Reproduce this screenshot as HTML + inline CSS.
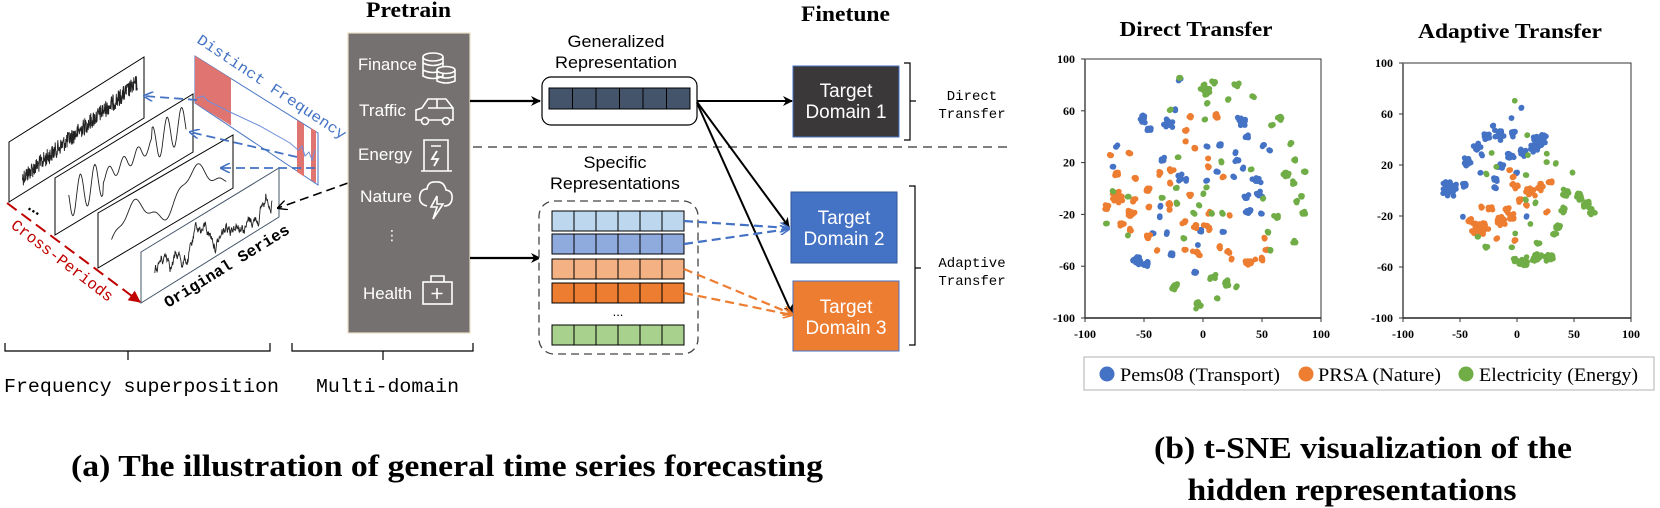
<!DOCTYPE html>
<html><head><meta charset="utf-8">
<style>
html,body{margin:0;padding:0;background:#fff;}
svg{display:block;}
.mono{font-family:"Liberation Mono","DejaVu Sans Mono",monospace;}
.sans{font-family:"Liberation Sans","DejaVu Sans",sans-serif;}
.serif{font-family:"Liberation Serif","DejaVu Serif",serif;}
</style></head>
<body>
<svg id="s" width="1660" height="508" viewBox="0 0 1660 508" xmlns="http://www.w3.org/2000/svg">
<defs>
<marker id="ab" markerWidth="10" markerHeight="10" refX="9" refY="5" orient="auto" markerUnits="userSpaceOnUse"><path d="M0,0 L10,5 L0,10 L3,5 z" fill="#000"/></marker>
<marker id="abl" markerWidth="10" markerHeight="10" refX="9" refY="5" orient="auto" markerUnits="userSpaceOnUse"><path d="M0,0 L10,5 L0,10" fill="none" stroke="#4472c4" stroke-width="1.6"/></marker>
<marker id="ao" markerWidth="10" markerHeight="10" refX="9" refY="5" orient="auto" markerUnits="userSpaceOnUse"><path d="M0,0 L10,5 L0,10" fill="none" stroke="#ed7d31" stroke-width="1.6"/></marker>
<marker id="ar" markerWidth="12" markerHeight="12" refX="11" refY="6" orient="auto" markerUnits="userSpaceOnUse"><path d="M0,0 L12,6 L0,12 z" fill="#c00000"/></marker>
<marker id="ak" markerWidth="10" markerHeight="10" refX="9" refY="5" orient="auto" markerUnits="userSpaceOnUse"><path d="M0,0 L10,5 L0,10" fill="none" stroke="#000" stroke-width="1.4"/></marker>
</defs>

<g id="panels" fill="#fff" stroke="#000" stroke-width="1">
<polygon points="9,142 144,57 144,118 9,202"/>
<polygon points="55,178 193,94 193,152 55,235"/>
<polygon points="98,213 233,135 233,188 98,268"/>
<polygon points="141,252 279,168 279,217 141,303" stroke="#44546a"/>
</g>
<g id="waves" fill="none" stroke="#222" stroke-width="0.9"></g>

<polygon points="195,56 318,133 318,185 195,103" fill="#fff" stroke="#4472c4" stroke-width="1"/>
<polygon points="195,56 231,78.5 231,125.5 195,103" fill="#e07470"/>
<polygon points="297,120 304,124.5 304,176.5 297,172" fill="#e07470"/>
<polygon points="311,128 316,131 316,183 311,180" fill="#e07470"/>
<polyline points="197,98 203,96 208,101 230,112 260,126 290,143 298,150 302,146 305,156 309,152 312,160 315,150" fill="none" stroke="#6f8fdc" stroke-width="1"/>
<text class="mono" x="0" y="0" font-size="15" fill="#4472c4" textLength="176" lengthAdjust="spacingAndGlyphs" transform="translate(196,42) rotate(33.7)">Distinct Frequency</text>

<g stroke="#4472c4" stroke-width="1.8" stroke-dasharray="9,5" fill="none">
<line x1="197" y1="100" x2="144" y2="96" marker-end="url(#abl)"/>
<line x1="297" y1="157" x2="190" y2="132" marker-end="url(#abl)"/>
<line x1="315" y1="168" x2="221" y2="168" marker-end="url(#abl)"/>
</g>
<line x1="348" y1="183" x2="278" y2="208" stroke="#000" stroke-width="1.6" stroke-dasharray="9,5" marker-end="url(#ak)"/>

<line x1="7" y1="203" x2="140" y2="302" stroke="#c00000" stroke-width="2" stroke-dasharray="12,6" marker-end="url(#ar)"/>
<text class="mono" x="0" y="0" font-size="16" fill="#c00000" textLength="124" lengthAdjust="spacingAndGlyphs" transform="translate(10,227) rotate(37.4)">Cross-Periods</text>
<text class="sans" x="0" y="0" font-size="16" font-weight="bold" fill="#000" transform="translate(27,209) rotate(30)">...</text>
<text class="mono" x="0" y="0" font-size="16" font-weight="bold" fill="#000" textLength="144" lengthAdjust="spacingAndGlyphs" transform="translate(168,308) rotate(-31.6)">Original Series</text>

<g fill="none" stroke="#000" stroke-width="1.2">
<path d="M5,343 V351 H270 V343 M128,351 V360"/>
<path d="M292,343 V351 H473 V343 M383,351 V360"/>
<path d="M904,63 H910 V140 H904 M910,101 H916"/>
<path d="M909,186 H915 V345 H909 M915,268 H921"/>
</g>
<text class="mono" x="4" y="392" font-size="19" textLength="275" lengthAdjust="spacingAndGlyphs">Frequency superposition</text>
<text class="mono" x="316" y="392" font-size="19" textLength="143" lengthAdjust="spacingAndGlyphs">Multi-domain</text>
<text class="serif" x="71" y="476" font-size="31" font-weight="bold" textLength="752" lengthAdjust="spacingAndGlyphs">(a) The illustration of general time series forecasting</text>

<text class="serif" x="366" y="17" font-size="22" font-weight="bold" textLength="85" lengthAdjust="spacingAndGlyphs">Pretrain</text>
<rect x="348" y="33" width="122" height="300" fill="#767171" stroke="#eadfc5" stroke-width="1.2"/>
<g class="sans" fill="#fff" font-size="17">
<text x="358" y="70" textLength="59" lengthAdjust="spacingAndGlyphs">Finance</text>
<text x="359" y="116" textLength="47" lengthAdjust="spacingAndGlyphs">Traffic</text>
<text x="358" y="160" textLength="54" lengthAdjust="spacingAndGlyphs">Energy</text>
<text x="360" y="202" textLength="52" lengthAdjust="spacingAndGlyphs">Nature</text>
<text x="385" y="240" font-size="14">⋮</text>
<text x="363" y="299" textLength="49" lengthAdjust="spacingAndGlyphs">Health</text>
</g>
<g fill="none" stroke="#fff" stroke-width="1.6">
<ellipse cx="433" cy="57" rx="10" ry="4"/><path d="M423,57 V76 Q433,81 443,76 V57 M423,63 Q433,68 443,63 M423,70 Q433,75 443,70"/>
<ellipse cx="446" cy="70" rx="9" ry="3.5" fill="#767171"/><path d="M437,70 V81 Q446,85 455,81 V70 M437,76 Q446,80 455,76"/>
<path d="M416,120 V110 L422,108 L428,99 H446 L453,108 V120 Z M428,108 H453 M437,99 V108"/>
<circle cx="425" cy="121" r="3.5" fill="#767171"/><circle cx="446" cy="121" r="3.5" fill="#767171"/>
<path d="M421,171 H452 M424,171 V140 H448 V171 M431,146 H441"/><path d="M437,151 L432,159 H438 L434,166" stroke-width="1.8"/>
<path d="M427,206 Q418,204 420,195 Q421,189 427,189 Q428,181 436,182 Q444,181 446,190 Q453,191 452,199 Q451,206 444,206"/>
<path d="M437,196 L431,207 H437 L433,219 L443,204 H437 Z" fill="#767171"/>
<rect x="423" y="282" width="29" height="22"/><path d="M431,282 V276 H444 V282 M437,288 V299 M431.5,293.5 H442.5"/>
</g>

<line x1="470" y1="101" x2="540" y2="101" stroke="#000" stroke-width="2.2" marker-end="url(#ab)"/>
<line x1="470" y1="258" x2="540" y2="258" stroke="#000" stroke-width="2.2" marker-end="url(#ab)"/>

<text class="sans" x="616" y="47" font-size="17" text-anchor="middle" textLength="97" lengthAdjust="spacingAndGlyphs">Generalized</text>
<text class="sans" x="616" y="68" font-size="17" text-anchor="middle" textLength="122" lengthAdjust="spacingAndGlyphs">Representation</text>
<rect x="542" y="77" width="155" height="48" rx="9" fill="#fff" stroke="#000" stroke-width="1.2"/>
<g id="gen" fill="#44546a" stroke="#000" stroke-width="1"></g>

<line x1="473" y1="147" x2="1007" y2="147" stroke="#7f7f7f" stroke-width="2" stroke-dasharray="9,6"/>

<text class="sans" x="615" y="168" font-size="17" text-anchor="middle" textLength="63" lengthAdjust="spacingAndGlyphs">Specific</text>
<text class="sans" x="615" y="189" font-size="17" text-anchor="middle" textLength="130" lengthAdjust="spacingAndGlyphs">Representations</text>
<rect x="539" y="201" width="159" height="153" rx="15" fill="#fff" stroke="#444" stroke-width="1.3" stroke-dasharray="8,5"/>
<g id="spec" stroke="#000" stroke-width="1"></g>
<text class="sans" x="618" y="316" font-size="13" text-anchor="middle">...</text>

<text class="serif" x="801" y="21" font-size="22" font-weight="bold" textLength="89" lengthAdjust="spacingAndGlyphs">Finetune</text>
<rect x="793" y="66" width="106" height="71" fill="#3a3838" stroke="#4472c4" stroke-width="1"/>
<rect x="791" y="192" width="106" height="71" fill="#4472c4" stroke="#2f5597" stroke-width="1"/>
<rect x="793" y="281" width="106" height="70" fill="#ed7d31" stroke="#4472c4" stroke-width="1"/>
<g class="sans" fill="#fff" font-size="19" text-anchor="middle">
<text x="846" y="97">Target</text><text x="846" y="118" textLength="81" lengthAdjust="spacingAndGlyphs">Domain 1</text>
<text x="844" y="224">Target</text><text x="844" y="245" textLength="81" lengthAdjust="spacingAndGlyphs">Domain 2</text>
<text x="846" y="313">Target</text><text x="846" y="334" textLength="81" lengthAdjust="spacingAndGlyphs">Domain 3</text>
</g>
<g stroke="#000" stroke-width="2" fill="none">
<line x1="697" y1="101" x2="792" y2="101" marker-end="url(#ab)"/>
<line x1="697" y1="102" x2="789" y2="227" marker-end="url(#ab)"/>
<line x1="697" y1="103" x2="792" y2="314" marker-end="url(#ab)"/>
</g>
<g stroke="#4472c4" stroke-width="2.2" stroke-dasharray="9,5" fill="none">
<line x1="684" y1="221" x2="789" y2="228" marker-end="url(#abl)"/>
<line x1="684" y1="244" x2="789" y2="229" marker-end="url(#abl)"/>
</g>
<g stroke="#ed7d31" stroke-width="2.2" stroke-dasharray="9,5" fill="none">
<line x1="684" y1="269" x2="792" y2="314" marker-end="url(#ao)"/>
<line x1="684" y1="293" x2="792" y2="315" marker-end="url(#ao)"/>
</g>
<g class="mono" font-size="14" text-anchor="middle">
<text x="972" y="100">Direct</text><text x="972" y="118">Transfer</text>
<text x="972" y="267">Adaptive</text><text x="972" y="285">Transfer</text>
</g>

<text class="serif" x="1196" y="36" font-size="21" font-weight="bold" text-anchor="middle" textLength="153" lengthAdjust="spacingAndGlyphs">Direct Transfer</text>
<text class="serif" x="1510" y="38" font-size="21" font-weight="bold" text-anchor="middle" textLength="184" lengthAdjust="spacingAndGlyphs">Adaptive Transfer</text>
<g id="axes" class="serif" font-size="12" font-weight="bold" fill="#000"></g>
<g id="pts"></g>

<rect x="1084" y="357" width="570" height="33" fill="#fff" stroke="#bfbfbf" stroke-width="1.2"/>
<circle cx="1107" cy="374" r="7.5" fill="#4472c4"/>
<circle cx="1306" cy="374" r="7.5" fill="#ed7d31"/>
<circle cx="1466" cy="374" r="7.5" fill="#70ad47"/>
<g class="serif" font-size="19">
<text x="1120" y="381" textLength="160" lengthAdjust="spacingAndGlyphs">Pems08 (Transport)</text>
<text x="1318" y="381" textLength="123" lengthAdjust="spacingAndGlyphs">PRSA (Nature)</text>
<text x="1479" y="381" textLength="159" lengthAdjust="spacingAndGlyphs">Electricity (Energy)</text>
</g>
<text class="serif" x="1363" y="458" font-size="31" font-weight="bold" text-anchor="middle" textLength="418" lengthAdjust="spacingAndGlyphs">(b) t-SNE visualization of the</text>
<text class="serif" x="1352" y="500" font-size="31" font-weight="bold" text-anchor="middle" textLength="329" lengthAdjust="spacingAndGlyphs">hidden representations</text>
</svg>

<script>
(function(){
var NS="http://www.w3.org/2000/svg";
function el(p,tag,a){var e=document.createElementNS(NS,tag);for(var k in a)e.setAttribute(k,a[k]);p.appendChild(e);return e;}
var seed=12345;function rnd(){seed=(seed*1103515245+12345)%2147483648;return seed/2147483648;}
function gauss(){return (rnd()+rnd()+rnd()-1.5)/1.5;}

var W=document.getElementById("waves");
var P=[[9,142,202,144,57,118],[55,178,235,193,94,152],[98,213,268,233,135,188],[141,252,303,279,168,217]];
function pt(p,u,v){var x=p[0]+u*(p[3]-p[0]);var yt=p[1]+u*(p[4]-p[1]);var yb=p[2]+u*(p[5]-p[2]);return [x,yt+v*(yb-yt)];}
var fns=[
 function(u){return 0.78-0.45*u+(rnd()-0.5)*0.28;},
 function(u){var amp=u<0.35?0.32:(u<0.7?0.12:0.3);return 0.55-0.15*u+amp*Math.sin(u*60);},
 function(u){return 0.5+0.28*Math.sin(u*14+1)+0.08*Math.sin(u*40);},
 null];
var rw=0.55;
for(var i=0;i<4;i++){var s=[];var n=i==0?400:(i==3?300:200);
 for(var j=0;j<=n;j++){var u=0.1+0.85*j/n;var v;
  if(i==3){rw+= (rnd()-0.5)*0.2; rw+=(0.5-rw)*0.05; v=rw+0.15*Math.sin(u*25);}
  else v=fns[i](u);
  v=Math.max(0.08,Math.min(0.92,v));var q=pt(P[i],u,v);s.push(q[0].toFixed(1)+","+q[1].toFixed(1));}
 el(W,"polyline",{points:s.join(" ")});}

var G=document.getElementById("gen");
for(var c=0;c<6;c++)el(G,"rect",{x:549+c*23.5,y:88,width:23.5,height:21});
var S=document.getElementById("spec");
var rows=[[211,"#bdd7ee"],[234,"#8faadc"],[259,"#f4b183"],[283,"#ed7d31"],[325,"#a9d18e"]];
rows.forEach(function(r){for(var c=0;c<6;c++)el(S,"rect",{x:552+c*22,y:r[0],width:22,height:20,fill:r[1]});});

var A=document.getElementById("axes");
function axes(x0,x1,y0,y1){
 el(A,"path",{d:"M"+x0+","+y0+" H"+x1+" V"+y1+" H"+x0+" Z",fill:"none",stroke:"#333","stroke-width":"1"});
 el(A,"line",{x1:x0,y1:y0,x2:x0,y2:y1,stroke:"#777","stroke-width":"2"});
 el(A,"line",{x1:x0,y1:y1,x2:x1,y2:y1,stroke:"#222","stroke-width":"1.5"});
 var yl=[100,60,20,-20,-60,-100];
 yl.forEach(function(v,k){var y=y0+(y1-y0)*k/5;var t=el(A,"text",{x:x0-10,y:y+4,"text-anchor":"end"});t.textContent=v;
   el(A,"line",{x1:x0-4,y1:y,x2:x0,y2:y,stroke:"#333"});});
 [-100,-50,0,50,100].forEach(function(v,k){var x=x0+(x1-x0)*k/4;var t=el(A,"text",{x:x,y:y1+20,"text-anchor":"middle"});t.textContent=v;
   el(A,"line",{x1:x,y1:y1,x2:x,y2:y1+4,stroke:"#333"});});
}
axes(1085,1321,59,318);
axes(1403,1631,63,318);

var PT=document.getElementById("pts");
var col={b:"#4472c4",o:"#ed7d31",g:"#70ad47"};
function cl(list,c,ox,oy){list.forEach(function(a){var n=Math.round(a[3]*1.5);for(var k=0;k<n;k++){var x=ox+(a[0]+gauss()*a[2])/3,y=oy+(a[1]+gauss()*a[2])/3;el(PT,"circle",{cx:x.toFixed(1),cy:y.toFixed(1),r:2.8,fill:col[c]});}});}
var dB=[[190,210,15,12],[205,240,10,6],[265,220,18,10],[285,180,5,2],[485,215,20,14],[500,260,8,4],[110,290,5,2],[100,350,5,2],[250,330,15,4],[300,385,15,5],[320,390,8,3],[380,390,5,2],[410,365,5,3],[420,285,8,4],[380,290,5,2],[470,330,10,3],[490,355,5,2],[530,390,15,8],[540,435,15,6],[500,440,10,4],[505,485,12,8],[545,490,5,2],[460,380,5,2],[240,470,5,2],[240,500,5,2],[260,550,5,2],[220,550,5,2],[170,630,18,14],[200,640,12,8],[275,615,10,6],[345,665,8,3],[430,545,5,2],[355,585,5,2],[360,540,8,3],[300,90,5,2],[465,310,5,2],[570,300,5,2],[550,285,5,2]];
var dO=[[90,315,8,3],[148,310,6,5],[110,370,10,5],[110,440,25,25],[80,470,10,5],[150,490,20,10],[160,450,8,4],[125,520,10,4],[150,540,8,3],[165,385,8,3],[205,420,10,8],[205,470,8,3],[205,560,10,6],[230,600,6,2],[240,370,8,3],[275,360,10,4],[270,480,8,3],[270,400,5,2],[330,200,6,3],[320,240,10,3],[318,275,5,2],[345,295,5,3],[410,195,12,5],[385,325,5,2],[385,350,5,2],[430,380,5,2],[330,435,8,3],[315,515,10,3],[345,530,10,3],[380,530,15,6],[390,490,10,3],[350,610,15,6],[315,600,5,2],[420,590,8,4],[445,605,10,4],[450,495,5,2],[455,625,5,2],[510,635,20,8],[545,630,10,3],[560,600,8,4],[555,565,5,2],[270,460,8,3]];
var dG=[[300,85,5,3],[375,120,20,10],[400,95,10,4],[470,105,10,5],[380,160,5,2],[445,150,5,2],[520,140,5,2],[600,205,10,6],[575,225,5,2],[632,280,5,3],[645,330,5,3],[618,375,12,8],[675,365,6,3],[640,400,8,3],[665,440,8,4],[650,455,5,2],[670,490,10,6],[590,500,10,4],[565,545,8,3],[570,600,5,2],[645,575,8,4],[270,180,5,2],[375,210,5,2],[293,322,5,2],[425,335,5,2],[515,358,5,2],[370,430,5,2],[357,465,5,2],[290,415,5,2],[290,460,5,2],[340,490,5,2],[245,445,5,2],[100,425,5,2],[145,440,5,2],[78,520,5,2],[143,555,5,2],[310,565,5,2],[395,490,5,2],[428,490,5,2],[550,445,5,2],[285,710,15,6],[355,765,15,10],[400,680,12,6],[440,700,15,8],[470,710,5,2],[410,745,5,2],[380,410,5,2]];
cl(dB,"b",1080,50);cl(dO,"o",1080,50);cl(dG,"g",1080,50);
var aB=[[150,565,30,40],[195,555,10,8],[200,485,15,8],[230,440,15,10],[260,410,15,10],[300,405,20,12],[340,400,15,8],[420,420,25,30],[400,445,15,10],[370,460,15,8],[330,470,15,8],[300,500,12,8],[285,540,10,6],[285,565,8,4],[335,355,4,1],[363,325,4,1],[280,378,4,1],[240,520,4,1],[245,465,4,1],[190,650,4,1],[380,650,4,1],[350,520,5,2]];
var aO=[[240,685,30,40],[210,660,10,8],[300,660,20,20],[335,650,15,12],[320,630,10,6],[270,625,10,6],[345,560,12,8],[390,575,18,14],[420,560,15,10],[450,545,12,6],[360,600,10,6],[380,615,5,3],[340,530,5,3],[330,510,5,2],[345,720,5,2],[440,635,5,2],[245,620,5,2],[290,715,5,2]];
var aG=[[500,580,15,10],[540,590,15,10],[560,615,15,12],[575,635,12,6],[490,630,12,8],[475,680,12,10],[465,700,8,4],[370,785,20,14],[410,770,20,12],[450,770,20,10],[345,780,8,3],[415,730,8,4],[345,305,4,1],[380,405,4,1],[383,465,4,1],[440,460,4,1],[440,485,4,1],[468,490,4,1],[515,518,4,1],[290,500,4,1],[275,460,4,1],[258,522,4,1],[378,525,4,1],[405,608,4,1],[376,600,4,1],[392,672,4,1],[335,740,4,1],[260,740,8,3],[235,712,4,1],[345,700,4,1]];
cl(aB,"b",1400,0);cl(aO,"o",1400,0);cl(aG,"g",1400,0);
})();
</script>
</body></html>
